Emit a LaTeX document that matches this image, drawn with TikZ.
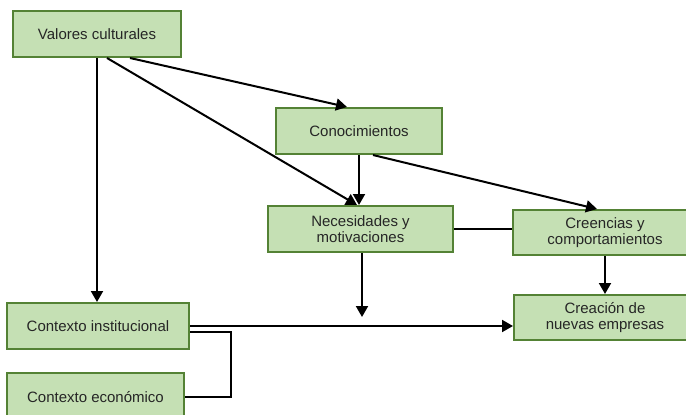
\documentclass[tikz,border=0pt]{standalone}
\usepackage{fontspec}
\setmainfont{Liberation Sans}
\usetikzlibrary{arrows.meta}
\definecolor{boxfill}{HTML}{C5E0B4}
\definecolor{boxline}{HTML}{548235}
\definecolor{textgray}{HTML}{262626}
\begin{document}
\begin{tikzpicture}[x=1pt, y=-1pt, line width=2pt,
    box/.style={draw=boxline, fill=boxfill, line width=2pt, inner sep=0pt, align=center,
      text=textgray, font=\fontsize{15}{16}\selectfont},
    arr/.style={-{Triangle[length=11pt,width=12pt]}}]

    \useasboundingbox (0,0) rectangle (686,415);

    \node[box, minimum width=168pt, minimum height=46pt] (v) at (97, 34) {Valores culturales};
    \node[box, minimum width=166pt, minimum height=46pt] (k) at (359, 131) {Conocimientos};
    \node[box, minimum width=185pt, minimum height=46pt] (n) at (360.5, 229) {Necesidades y\\motivaciones};
    \node[box, minimum width=184pt, minimum height=45pt] (c) at (605, 232.5) {Creencias y\\comportamientos};
    \node[box, minimum width=182pt, minimum height=45pt] (e) at (605, 317.5) {Creación de\\nuevas empresas};
    \node[box, minimum width=182pt, minimum height=46pt] (i) at (98, 326) {Contexto institucional};
    \node[box, minimum width=177pt, minimum height=48pt] (o) at (95.5, 397) {Contexto económico};
    \coordinate (m) at (362, 317);

    \draw [arr] ([xshift=33pt]v.south) to ([xshift=-12pt]k.north);
    \draw [arr] ([xshift=10pt]v.south) to ([xshift=-3.5pt]n.north);
    \draw [arr] (v.south) to (v.south |- i.north);
    \draw [arr] (k.south) to (k.south |- n.north);
    \draw [arr] ([xshift=14pt]k.south) to ([xshift=-8pt]c.north);
    \draw (n.east) to (n.east -| c.west);
    \draw [arr] ([xshift=1.5pt]n.south) to (m);
    \draw [arr] (c.south) to (e.north);
    \draw [arr] (i.east) to (i.east -| e.west);
    \draw ([yshift=-6pt]i.east) -- ++(41,0) |- (o.east);

\end{tikzpicture}
\end{document}
